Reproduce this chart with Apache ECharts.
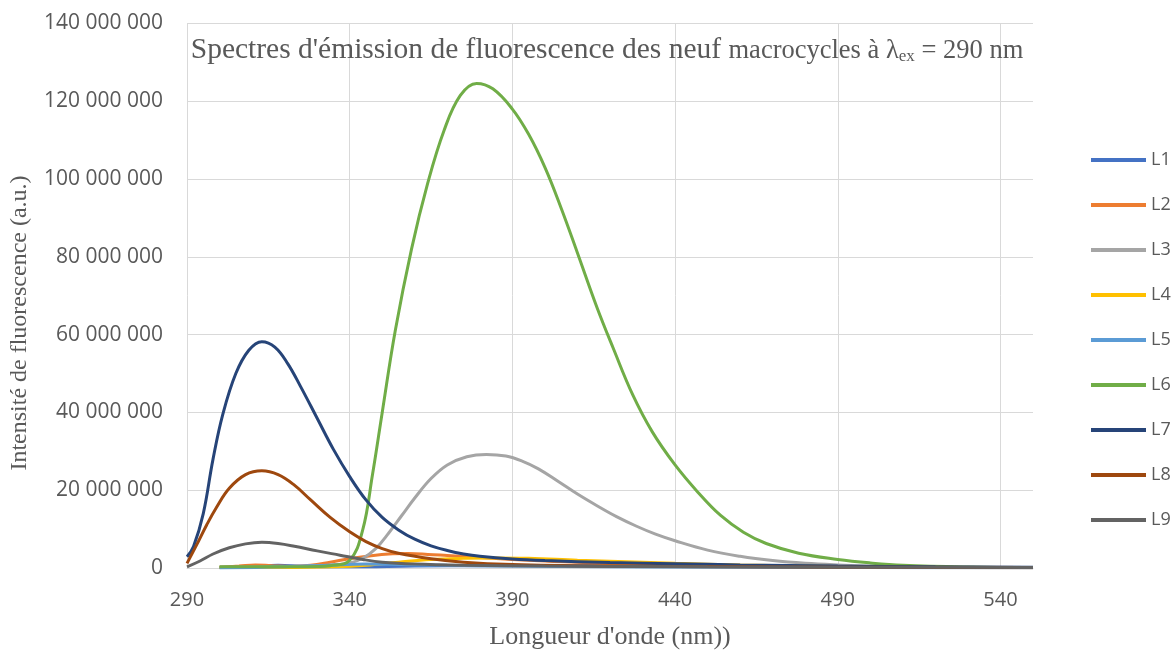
<!DOCTYPE html>
<html>
<head>
<meta charset="utf-8">
<script src="https://cdn.jsdelivr.net/npm/echarts@6/dist/echarts.min.js"></script>
<style>
  html, body { margin: 0; padding: 0; background: #fff; }
  #chart { width: 1175px; height: 651px; }
</style>
</head>
<body>
<div id="chart"></div>
<script>
// values in millions (a.u.): [wavelength nm, intensity]
const L1 = [[300,0.1],[310,0.4],[318,0.7],[326,0.4],[340,0.3],[360,0.5],[380,0.6],[400,0.6],[430,0.5],[460,0.4],[500,0.2],[550,0.1]];
const L2 = [[300,0.2],[306,0.5],[311,0.8],[316,0.6],[322,0.4],[328,0.7],[334,1.5],[340,2.4],[346,3.1],[352,3.6],[358,3.7],[364,3.5],[370,3.2],[380,2.7],[390,2.2],[400,1.8],[420,1.1],[440,0.7],[470,0.4],[500,0.2],[550,0.05]];
const L3 = [[300,0.2],[320,0.4],[335,0.8],[340,1.3],[344,2.5],[348,5],[352,9],[356,13.5],[360,18],[365,23],[370,26.5],[376,28.6],[382,29.2],[388,28.8],[393,27.5],[398,25.5],[404,22.3],[410,19],[416,16],[422,13.2],[428,10.8],[434,8.7],[440,7],[450,4.6],[460,3],[470,1.9],[480,1.2],[490,0.8],[505,0.4],[520,0.2],[550,0.05]];
const L4 = [[300,0.1],[320,0.1],[335,0.3],[345,0.7],[355,1.5],[365,2.2],[375,2.5],[385,2.6],[395,2.5],[410,2.0],[425,1.6],[440,1.2],[460,0.8],[490,0.4],[520,0.2],[550,0.1]];
const L5 = [[300,0.0],[320,0.3],[335,0.8],[345,1.0],[355,0.9],[370,0.7],[390,0.5],[420,0.3],[460,0.2],[500,0.1],[550,0.05]];
const L6 = [[300,0.3],[315,0.3],[330,0.4],[334,0.6],[340,2],[344,9.8],[347,24],[350,40],[354,61],[359,82],[364,99],[369,112.5],[374,121.5],[379,124.6],[384,123.2],[390,118],[395,111.5],[400,103],[405,92.5],[410,81],[416,67],[421,56.5],[427,44.5],[433,35],[440,26.5],[447,19.5],[454,13.5],[461,9.2],[468,6.3],[478,3.8],[490,2.2],[500,1.3],[510,0.7],[530,0.25],[550,0.1]];
const L7 = [[290,2.9],[292,5.5],[295,14],[298,28],[301,39.5],[305,50],[309,56],[313,58.2],[317,56.8],[321,52.5],[325,46.5],[330,38.5],[335,30.5],[340,23.5],[345,17.5],[350,13],[355,9.8],[360,7.4],[365,5.7],[370,4.5],[375,3.6],[380,3.0],[390,2.3],[400,1.9],[420,1.4],[440,1.1],[460,0.8],[490,0.5],[520,0.3],[550,0.2]];
const L8 = [[290,1.2],[293,6],[296,11],[299,15.5],[303,20.5],[308,24],[313,25],[318,24],[323,21.3],[328,17.5],[334,13],[340,9.3],[345,6.8],[350,5],[355,3.8],[365,2.4],[375,1.5],[390,0.9],[420,0.5],[460,0.3],[550,0.1]];
const L9 = [[290,0.3],[294,1.8],[298,3.6],[303,5.2],[308,6.2],[313,6.6],[318,6.3],[323,5.6],[330,4.4],[337,3.3],[344,2.2],[350,1.5],[360,1.0],[375,0.7],[400,0.5],[450,0.3],[500,0.2],[550,0.1]];

const seriesNames = ['L1', 'L2', 'L3', 'L4', 'L5', 'L6', 'L7', 'L8', 'L9'];
const seriesData = [L1, L2, L3, L4, L5, L6, L7, L8, L9];
const colors = ['#4472C4', '#ED7D31', '#A5A5A5', '#FFC000', '#5B9BD5', '#70AD47', '#264478', '#9E480E', '#636363'];

const chart = echarts.init(document.getElementById('chart'));

function spaced(v) {
    return String(Math.round(v)).replace(/\B(?=(\d{3})+(?!\d))/g, ' ');
}

const serif = 'Liberation Serif';

const option = {
    animation: false,
    color: colors,
    title: {
        text: "{a|Spectres d'émission de fluorescence des neuf }{b|macrocycles à λ}{s|ex}{b| = 290 nm}",
        left: 602,
        top: 27,
        textAlign: 'center',
        textStyle: {
            rich: {
                a: { fontFamily: serif, fontSize: 29.5, fontWeight: 'normal', color: '#595959', verticalAlign: 'bottom', lineHeight: 33 },
                b: { fontFamily: serif, fontSize: 26.5, fontWeight: 'normal', color: '#595959', verticalAlign: 'bottom', lineHeight: 33 },
                s: { fontFamily: serif, fontSize: 17, fontWeight: 'normal', color: '#595959', verticalAlign: 'bottom', lineHeight: 25 }
            }
        }
    },
    legend: {
        orient: 'vertical',
        left: 1091,
        top: 150,
        padding: 0,
        icon: 'rect',
        itemWidth: 55,
        itemHeight: 4,
        itemGap: 25,
        textStyle: { fontFamily: 'Open Sans', fontSize: 18, color: '#595959', lineHeight: 20 },
        data: seriesNames
    },
    grid: { left: 187, right: 142, top: 23.5, bottom: 83 },
    xAxis: {
        type: 'value',
        min: 290,
        max: 550,
        interval: 50,
        axisLine: { show: true, lineStyle: { color: '#d9d9d9', width: 1 } },
        axisTick: { show: false },
        axisLabel: { showMaxLabel: false, fontFamily: 'Open Sans', fontSize: 20, color: '#595959', margin: 22 },
        splitLine: { show: true, showMaxLine: false, lineStyle: { color: '#d9d9d9', width: 1 } }
    },
    yAxis: {
        type: 'value',
        min: 0,
        max: 140000000,
        interval: 20000000,
        axisLine: { show: false },
        axisTick: { show: false },
        axisLabel: { fontFamily: 'Open Sans', fontSize: 21, color: '#595959', margin: 24, formatter: spaced },
        splitLine: { lineStyle: { color: '#d9d9d9', width: 1 } }
    },
    graphic: [
        {
            type: 'text',
            x: 610,
            y: 637,
            style: { text: "Longueur d'onde (nm))", font: '26px ' + serif, fill: '#595959', textAlign: 'center', textVerticalAlign: 'middle' }
        },
        {
            type: 'text',
            x: 20,
            y: 323,
            rotation: Math.PI / 2,
            style: { text: 'Intensité de fluorescence (a.u.)', font: '24px ' + serif, fill: '#595959', textAlign: 'center', textVerticalAlign: 'middle' }
        }
    ],
    series: seriesNames.map((name, i) => ({
        name: name,
        type: 'line',
        smooth: 0.4,
        symbol: 'none',
        lineStyle: { width: 3, color: colors[i] },
        data: seriesData[i].map(p => [p[0], p[1] * 1000000])
    }))
};

chart.setOption(option);
</script>
</body>
</html>
